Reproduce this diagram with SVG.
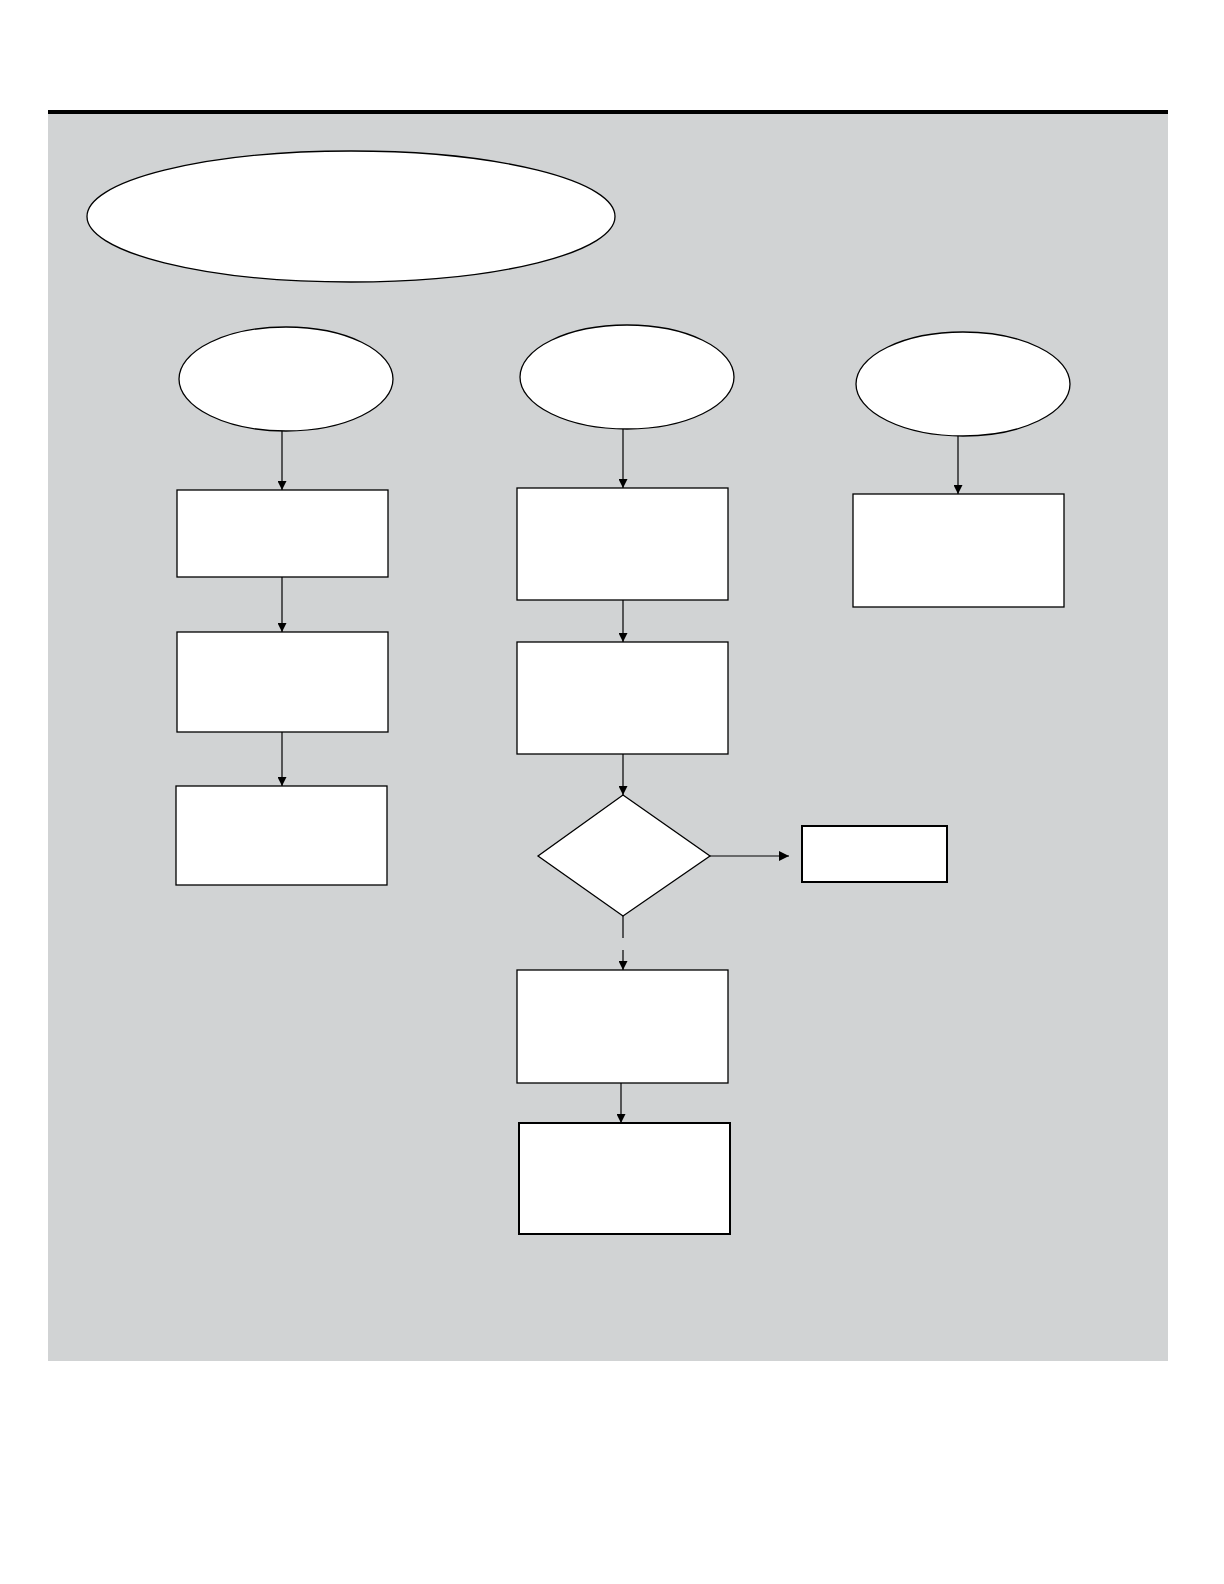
<svg xmlns="http://www.w3.org/2000/svg" width="1224" height="1584" viewBox="0 0 1224 1584">
<style>
.n{fill:#ffffff;stroke:#000000;stroke-width:1.3}
.t{stroke-width:2}
.c{stroke:#000000;stroke-width:1.2;fill:none}
</style>
<defs>
<marker id="ah" viewBox="0 0 10 10" refX="10" refY="5" markerWidth="9" markerHeight="9" markerUnits="userSpaceOnUse" orient="auto">
<path d="M0,0 L10,5 L0,10 Z" fill="#000"/>
</marker>
<marker id="ahb" viewBox="0 0 10 10" refX="10" refY="5" markerWidth="10" markerHeight="10" markerUnits="userSpaceOnUse" orient="auto">
<path d="M0,0 L10,5 L0,10 Z" fill="#000"/>
</marker>
</defs>
<rect x="0" y="0" width="1224" height="1584" fill="#ffffff"/>
<rect x="48" y="113" width="1120" height="1248" fill="#d1d3d4"/>
<rect x="48" y="110" width="1120" height="4" fill="#000"/>
<g id="connectors">
<line class="c" x1="282" y1="431" x2="282" y2="490" marker-end="url(#ah)"/>
<line class="c" x1="282" y1="577" x2="282" y2="632" marker-end="url(#ah)"/>
<line class="c" x1="282" y1="732" x2="282" y2="786" marker-end="url(#ah)"/>
<line class="c" x1="623" y1="429" x2="623" y2="488" marker-end="url(#ah)"/>
<line class="c" x1="623" y1="600" x2="623" y2="642" marker-end="url(#ah)"/>
<line class="c" x1="623" y1="754" x2="623" y2="795" marker-end="url(#ah)"/>
<line class="c" x1="710" y1="856" x2="789" y2="856" marker-end="url(#ahb)"/>
<line class="c" x1="623" y1="916" x2="623" y2="938"/>
<line class="c" x1="623" y1="950" x2="623" y2="970" marker-end="url(#ah)"/>
<line class="c" x1="621" y1="1083" x2="621" y2="1123" marker-end="url(#ah)"/>
<line class="c" x1="958" y1="436" x2="958" y2="494" marker-end="url(#ah)"/>
</g>
<g id="title-ellipse"><ellipse class="n" cx="351" cy="216.5" rx="264" ry="65.5"/></g>
<g id="start-1"><ellipse class="n" cx="286" cy="379" rx="107" ry="52"/></g>
<g id="start-2"><ellipse class="n" cx="627" cy="377" rx="107" ry="52"/></g>
<g id="start-3"><ellipse class="n" cx="963" cy="384" rx="107" ry="52"/></g>
<g id="box-1a"><rect class="n" x="177" y="490" width="211" height="87"/></g>
<g id="box-1b"><rect class="n" x="177" y="632" width="211" height="100"/></g>
<g id="box-1c"><rect class="n" x="176" y="786" width="211" height="99"/></g>
<g id="box-2a"><rect class="n" x="517" y="488" width="211" height="112"/></g>
<g id="box-2b"><rect class="n" x="517" y="642" width="211" height="112"/></g>
<g id="decision"><polygon class="n" points="623,795 710,856 623,916 538,856"/></g>
<g id="box-side"><rect class="n t" x="802" y="826" width="145" height="56"/></g>
<g id="box-2c"><rect class="n" x="517" y="970" width="211" height="113"/></g>
<g id="box-2d"><rect class="n t" x="519" y="1123" width="211" height="111"/></g>
<g id="box-3a"><rect class="n" x="853" y="494" width="211" height="113"/></g>
</svg>
